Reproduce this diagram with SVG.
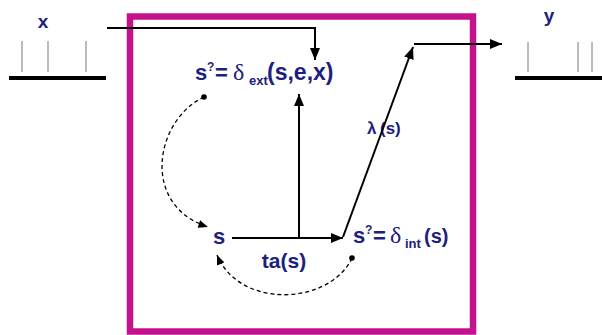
<svg xmlns="http://www.w3.org/2000/svg" width="602" height="335" viewBox="0 0 602 335">
<style>
.lbl{font-family:"Liberation Sans",Arial,sans-serif;font-weight:bold;fill:#1c2080;}
.gr{font-family:"Liberation Serif","Times New Roman",serif;font-weight:normal;}
.ln{stroke:#000;stroke-width:2;fill:none;}
.dash{stroke:#000;stroke-width:1.3;fill:none;stroke-dasharray:4 3;}
.tick{stroke:#777;stroke-width:1;}
.bar{stroke:#000;stroke-width:4;}
</style>
<defs>
<marker id="ah" viewBox="0 0 12 10" refX="12" refY="5" markerWidth="12" markerHeight="10" markerUnits="userSpaceOnUse" orient="auto">
<path d="M0,0 L12,5 L0,10 z" fill="#000"/>
</marker>
<marker id="ahs" viewBox="0 0 12 10" refX="12" refY="5" markerWidth="11" markerHeight="8" markerUnits="userSpaceOnUse" orient="auto">
<path d="M0,0 L12,5 L0,10 z" fill="#000"/>
</marker>
</defs>
<rect width="602" height="335" fill="#fff"/>
<g id="box"><rect x="130" y="16.5" width="343" height="315" fill="none" stroke="#C4128F" stroke-width="6.5"/></g>
<g id="input">
<line class="bar" x1="9" y1="78" x2="106" y2="78"/>
<line class="tick" x1="22" y1="41" x2="22" y2="72"/>
<line class="tick" x1="48" y1="41" x2="48" y2="72"/>
<line class="tick" x1="86" y1="41" x2="86" y2="72"/>
<text class="lbl" x="43" y="28" font-size="19" text-anchor="middle">x</text>
</g>
<g id="output">
<line class="bar" x1="515" y1="78" x2="602" y2="78"/>
<line class="tick" x1="528" y1="42" x2="528" y2="72"/>
<line class="tick" x1="578" y1="42" x2="578" y2="72"/>
<line class="tick" x1="592" y1="42" x2="592" y2="72"/>
<text class="lbl" x="549" y="22" font-size="19" text-anchor="middle">y</text>
</g>
<g id="ext">
<text class="lbl" font-size="22"><tspan x="195" y="80">s</tspan><tspan x="207" y="71" font-size="12">?</tspan><tspan x="215" y="80">=</tspan><tspan class="gr" x="233" y="80" font-size="24">δ</tspan><tspan x="249" y="85" font-size="13">ext</tspan><tspan x="267" y="80" font-size="23">(s,e,x)</tspan></text>
</g>
<g id="s">
<text class="lbl" x="219" y="244" font-size="22" text-anchor="middle">s</text>
</g>
<g id="int">
<text class="lbl" font-size="22"><tspan x="353" y="243">s</tspan><tspan x="365" y="234" font-size="12">?</tspan><tspan x="373" y="243">=</tspan><tspan class="gr" x="390" y="243" font-size="24">δ</tspan><tspan x="405" y="248" font-size="13">int</tspan><tspan x="424" y="243" font-size="20">(s)</tspan></text>
</g>
<g id="labels">
<text class="lbl" x="284" y="268" font-size="21" text-anchor="middle">ta(s)</text>
<text class="lbl" font-size="17"><tspan x="367" y="134">λ</tspan><tspan x="380" y="134">(s)</tspan></text>
</g>
<g id="connectors">
<polyline class="ln" points="107,28 315,28 315,60" marker-end="url(#ah)"/>
<line class="ln" x1="232" y1="238" x2="343" y2="238" marker-end="url(#ah)"/>
<line class="ln" x1="299" y1="238" x2="299" y2="94" marker-end="url(#ah)"/>
<line class="ln" x1="343" y1="237" x2="413" y2="47" marker-end="url(#ah)"/>
<line class="ln" x1="414" y1="44" x2="502" y2="44" marker-end="url(#ah)"/>
<circle cx="204" cy="97" r="2.8" fill="#000"/>
<path class="dash" d="M204,97 C155,120 140,205 208,227" marker-end="url(#ahs)"/>
<circle cx="352" cy="258" r="2.8" fill="#000"/>
<path class="dash" d="M352,258 C330,305 240,310 217,255" marker-end="url(#ahs)"/>
</g>
</svg>
